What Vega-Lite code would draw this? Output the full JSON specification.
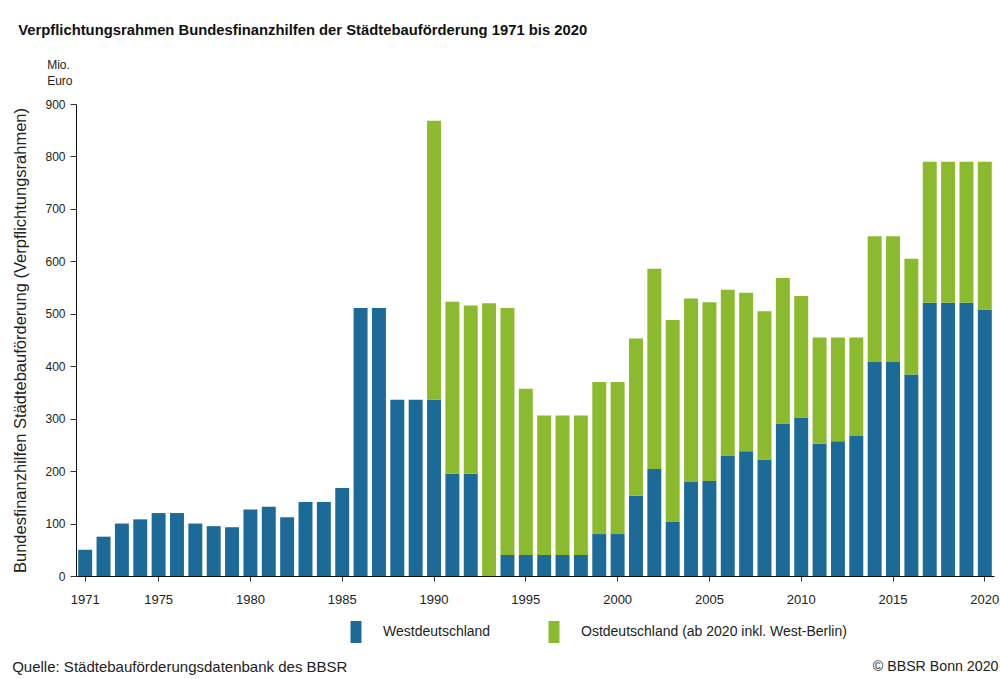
{
  "$schema": "https://vega.github.io/schema/vega-lite/v6.json",
  "width": 918,
  "height": 472,
  "autosize": {"type": "none"},
  "padding": {"left": 76, "top": 104, "right": 6, "bottom": 103},
  "background": "white",
  "config": {
    "font": "Liberation Sans",
    "view": {"stroke": null},
    "axis": {"grid": false, "domainColor": "#111", "tickColor": "#333", "labelColor": "#222", "titleColor": "#222"}
  },
  "title": {
    "text": "Verpflichtungsrahmen Bundesfinanzhilfen der Städtebauförderung 1971 bis 2020",
    "anchor": "start",
    "frame": "bounds",
    "fontSize": 14.8,
    "fontWeight": "bold",
    "color": "#111",
    "offset": 21,
    "dx": 6
  },
  "data": {
    "values": [
      {"year": 1971, "region": "W", "value": 50},
      {"year": 1972, "region": "W", "value": 75},
      {"year": 1973, "region": "W", "value": 100},
      {"year": 1974, "region": "W", "value": 108},
      {"year": 1975, "region": "W", "value": 120},
      {"year": 1976, "region": "W", "value": 120},
      {"year": 1977, "region": "W", "value": 100},
      {"year": 1978, "region": "W", "value": 95},
      {"year": 1979, "region": "W", "value": 93},
      {"year": 1980, "region": "W", "value": 127},
      {"year": 1981, "region": "W", "value": 132},
      {"year": 1982, "region": "W", "value": 112},
      {"year": 1983, "region": "W", "value": 141},
      {"year": 1984, "region": "W", "value": 141},
      {"year": 1985, "region": "W", "value": 168},
      {"year": 1986, "region": "W", "value": 511},
      {"year": 1987, "region": "W", "value": 511},
      {"year": 1988, "region": "W", "value": 336},
      {"year": 1989, "region": "W", "value": 336},
      {"year": 1990, "region": "W", "value": 336},
      {"year": 1991, "region": "W", "value": 195},
      {"year": 1992, "region": "W", "value": 195},
      {"year": 1993, "region": "W", "value": 0},
      {"year": 1994, "region": "W", "value": 40},
      {"year": 1995, "region": "W", "value": 40},
      {"year": 1996, "region": "W", "value": 40},
      {"year": 1997, "region": "W", "value": 40},
      {"year": 1998, "region": "W", "value": 40},
      {"year": 1999, "region": "W", "value": 80},
      {"year": 2000, "region": "W", "value": 80},
      {"year": 2001, "region": "W", "value": 153},
      {"year": 2002, "region": "W", "value": 204},
      {"year": 2003, "region": "W", "value": 104},
      {"year": 2004, "region": "W", "value": 179},
      {"year": 2005, "region": "W", "value": 181},
      {"year": 2006, "region": "W", "value": 230},
      {"year": 2007, "region": "W", "value": 238},
      {"year": 2008, "region": "W", "value": 222},
      {"year": 2009, "region": "W", "value": 291},
      {"year": 2010, "region": "W", "value": 302},
      {"year": 2011, "region": "W", "value": 252},
      {"year": 2012, "region": "W", "value": 257},
      {"year": 2013, "region": "W", "value": 267},
      {"year": 2014, "region": "W", "value": 408},
      {"year": 2015, "region": "W", "value": 408},
      {"year": 2016, "region": "W", "value": 384},
      {"year": 2017, "region": "W", "value": 521},
      {"year": 2018, "region": "W", "value": 521},
      {"year": 2019, "region": "W", "value": 521},
      {"year": 2020, "region": "W", "value": 508},
      {"year": 1990, "region": "O", "value": 532},
      {"year": 1991, "region": "O", "value": 328},
      {"year": 1992, "region": "O", "value": 321},
      {"year": 1993, "region": "O", "value": 520},
      {"year": 1994, "region": "O", "value": 471},
      {"year": 1995, "region": "O", "value": 317},
      {"year": 1996, "region": "O", "value": 266},
      {"year": 1997, "region": "O", "value": 266},
      {"year": 1998, "region": "O", "value": 266},
      {"year": 1999, "region": "O", "value": 290},
      {"year": 2000, "region": "O", "value": 290},
      {"year": 2001, "region": "O", "value": 300},
      {"year": 2002, "region": "O", "value": 382},
      {"year": 2003, "region": "O", "value": 384},
      {"year": 2004, "region": "O", "value": 350},
      {"year": 2005, "region": "O", "value": 341},
      {"year": 2006, "region": "O", "value": 316},
      {"year": 2007, "region": "O", "value": 302},
      {"year": 2008, "region": "O", "value": 283},
      {"year": 2009, "region": "O", "value": 277},
      {"year": 2010, "region": "O", "value": 232},
      {"year": 2011, "region": "O", "value": 203},
      {"year": 2012, "region": "O", "value": 198},
      {"year": 2013, "region": "O", "value": 188},
      {"year": 2014, "region": "O", "value": 240},
      {"year": 2015, "region": "O", "value": 240},
      {"year": 2016, "region": "O", "value": 221},
      {"year": 2017, "region": "O", "value": 269},
      {"year": 2018, "region": "O", "value": 269},
      {"year": 2019, "region": "O", "value": 269},
      {"year": 2020, "region": "O", "value": 282}
    ]
  },
  "encoding": {
    "x": {
      "field": "year",
      "type": "ordinal",
      "scale": {"paddingInner": 0.24, "paddingOuter": 0.12},
      "axis": {
        "title": null,
        "values": [1971, 1975, 1980, 1985, 1990, 1995, 2000, 2005, 2010, 2015, 2020],
        "labelAngle": 0,
        "labelFontSize": 13,
        "labelPadding": 12,
        "tickSize": 5
      }
    },
    "y": {
      "field": "value",
      "type": "quantitative",
      "stack": "zero",
      "scale": {"domain": [0, 900], "nice": false},
      "axis": {
        "title": "Bundesfinanzhilfen Städtebauförderung (Verpflichtungsrahmen)",
        "titleFontSize": 16.5,
        "titleFontWeight": "normal",
        "titlePadding": 16,
        "values": [0, 100, 200, 300, 400, 500, 600, 700, 800, 900],
        "labelFontSize": 12,
        "labelPadding": 5,
        "tickSize": 6
      }
    }
  },
  "layer": [
    {
      "mark": {"type": "bar"},
      "encoding": {
        "color": {
          "field": "region",
          "type": "nominal",
          "sort": ["W", "O"],
          "scale": {"domain": ["W", "O"], "range": ["#1b6a97", "#8cba2f"]},
          "legend": {
            "title": null,
            "orient": "none",
            "legendX": 269,
            "legendY": 517,
            "direction": "horizontal",
            "symbolType": "M-0.5,-1L0.5,-1L0.5,1L-0.5,1Z",
            "symbolSize": 484,
            "symbolStrokeWidth": 0,
            "labelFontSize": 14,
            "labelLimit": 500,
            "labelColor": "#222",
            "labelOffset": 16,
            "columnPadding": 52,
            "labelExpr": "datum.label == 'W' ? 'Westdeutschland' : 'Ostdeutschland (ab 2020 inkl. West-Berlin)'"
          }
        },
        "order": {"field": "region", "sort": "descending"}
      }
    },
    {
      "transform": [{"filter": "datum.year == 1971 && datum.region == 'W'"}],
      "mark": {"type": "text", "text": "Mio.", "align": "left", "baseline": "middle", "fontSize": 12, "color": "#222", "dx": -38},
      "encoding": {"x": {"datum": 1971}, "y": {"datum": 975}, "color": {"value": "#222"}}
    },
    {
      "transform": [{"filter": "datum.year == 1971 && datum.region == 'W'"}],
      "mark": {"type": "text", "text": "Euro", "align": "left", "baseline": "middle", "fontSize": 12, "color": "#222", "dx": -38},
      "encoding": {"x": {"datum": 1971}, "y": {"datum": 944}, "color": {"value": "#222"}}
    },
    {
      "transform": [{"filter": "datum.year == 1971 && datum.region == 'W'"}],
      "mark": {"type": "text", "text": "Quelle: Städtebauförderungsdatenbank des BBSR", "align": "left", "baseline": "middle", "fontSize": 15, "color": "#222", "dx": -73},
      "encoding": {"x": {"datum": 1971}, "y": {"datum": -174}, "color": {"value": "#222"}}
    },
    {
      "transform": [{"filter": "datum.year == 1971 && datum.region == 'W'"}],
      "mark": {"type": "text", "text": "© BBSR Bonn 2020", "align": "left", "baseline": "middle", "fontSize": 14.2, "color": "#222", "dx": -112},
      "encoding": {"x": {"datum": 2020}, "y": {"datum": -174}, "color": {"value": "#222"}}
    }
  ]
}
